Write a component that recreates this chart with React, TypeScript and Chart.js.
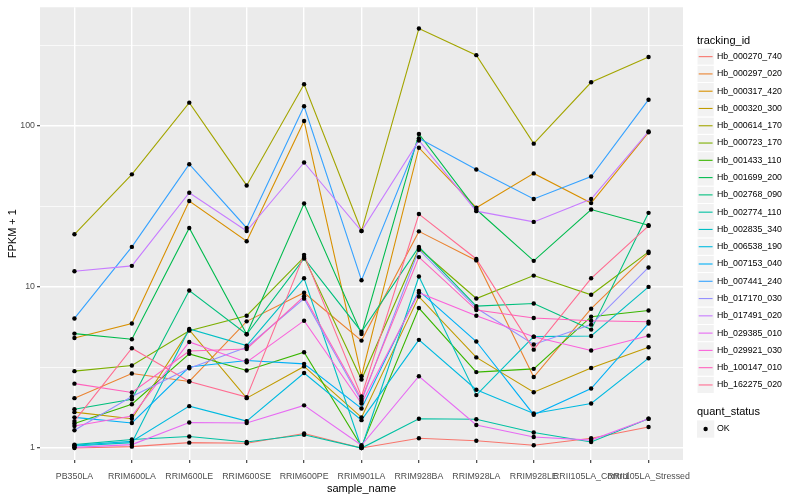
import React, { useEffect, useRef } from "react";
import { Chart, registerables } from "chart.js";

Chart.register(...registerables);

const FONT = '"Liberation Sans", Arial, Helvetica, sans-serif';

const categories = [
  "PB350LA",
  "RRIM600LA",
  "RRIM600LE",
  "RRIM600SE",
  "RRIM600PE",
  "RRIM901LA",
  "RRIM928BA",
  "RRIM928LA",
  "RRIM928LE",
  "RRII105LA_Control",
  "RRII105LA_Stressed",
];

const trackingIds = [
  "Hb_000270_740",
  "Hb_000297_020",
  "Hb_000317_420",
  "Hb_000320_300",
  "Hb_000614_170",
  "Hb_000723_170",
  "Hb_001433_110",
  "Hb_001699_200",
  "Hb_002768_090",
  "Hb_002774_110",
  "Hb_002835_340",
  "Hb_006538_190",
  "Hb_007153_040",
  "Hb_007441_240",
  "Hb_017170_030",
  "Hb_017491_020",
  "Hb_029385_010",
  "Hb_029921_030",
  "Hb_100147_010",
  "Hb_162275_020",
];

const seriesColors = [
  "#F8766D", "#EA8331", "#D89000", "#C09B00", "#A3A500",
  "#7CAE00", "#39B600", "#00BB4E", "#00BF7D", "#00C1A3",
  "#00BFC4", "#00BAE0", "#00B0F6", "#35A2FF", "#9590FF",
  "#C77CFF", "#E76BF3", "#FA62DB", "#FF62BC", "#FF6C91",
];

// FPKM + 1 values, one array per tracking_id, in category order
const hb000270740 = [1.0, 1.02, 1.08, 1.07, 1.23, 1.0, 1.15, 1.11, 1.04, 1.15, 1.35];
const hb000297020 = [2.04, 2.9, 2.59, 6.11, 9.2, 4.64, 22.1, 14.6, 2.76, 7.32, 16.2];
const hb000317420 = [4.82, 5.93, 34.1, 19.2, 107, 2.79, 73, 31, 50.6, 33.1, 91];
const hb000320300 = [1.67, 1.52, 5.41, 2.04, 3.21, 1.55, 8.7, 3.65, 2.22, 3.14, 4.22];
const hb000614170 = [21.2, 49.9, 139, 42.6, 181, 22.2, 401, 274, 77.4, 186, 267];
const hb000723170 = [3.0, 3.25, 5.35, 6.62, 15.3, 2.66, 17.3, 8.47, 11.75, 8.93, 16.5];
const hb001433110 = [1.42, 1.87, 3.84, 3.03, 3.93, 1.02, 7.39, 2.96, 3.1, 6.53, 7.14];
const hb001699200 = [5.13, 4.73, 23.2, 5.08, 32.9, 5.1, 88.9, 30.2, 14.5, 30.2, 24.1];
const hb002768090 = [1.74, 2.01, 9.49, 5.08, 15.0, 5.27, 17.7, 7.6, 7.89, 5.43, 28.8];
const hb002774110 = [1.05, 1.13, 1.18, 1.09, 1.21, 1.0, 1.52, 1.51, 1.25, 1.09, 1.52];
const hb002835340 = [1.03, 1.08, 5.48, 4.32, 11.3, 1.0, 11.6, 2.13, 4.91, 4.96, 10.0];
const hb006538190 = [1.04, 1.1, 1.82, 1.47, 2.92, 1.49, 4.69, 2.3, 1.64, 1.89, 3.61];
const hb007153040 = [1.55, 1.43, 3.18, 3.49, 3.33, 1.76, 9.45, 4.58, 1.61, 2.34, 5.93];
const hb007441240 = [6.37, 17.7, 57.7, 23.2, 132, 11.0, 83.5, 53.5, 35.1, 48.4, 145];
const hb017170030 = [1.29, 2.09, 3.13, 4.22, 8.45, 1.96, 17.0, 7.39, 4.39, 5.83, 13.2];
const hb017491020 = [12.5, 13.5, 38.4, 22.2, 59.1, 22.2, 81, 29.5, 25.3, 35.1, 92];
const hb029385010 = [1.01, 1.05, 1.44, 1.43, 1.84, 1.04, 2.79, 1.39, 1.17, 1.12, 1.52];
const hb029921030 = [1.37, 1.58, 4.55, 3.41, 6.17, 1.89, 9.2, 6.62, 4.91, 4.03, 4.98];
const hb100147010 = [2.51, 2.21, 4.0, 4.12, 8.74, 2.02, 15.3, 7.18, 6.41, 6.17, 6.08];
const hb162275020 = [1.47, 4.16, 2.59, 2.07, 15.8, 2.09, 28.3, 14.9, 4.08, 11.3, 23.9];

const seriesValues = [
  hb000270740, hb000297020, hb000317420, hb000320300, hb000614170,
  hb000723170, hb001433110, hb001699200, hb002768090, hb002774110,
  hb002835340, hb006538190, hb007153040, hb007441240, hb017170030,
  hb017491020, hb029385010, hb029921030, hb100147010, hb162275020,
];

const yMajorTicks = [1, 10, 100];
const yMinorTicks = [3.1623, 31.623, 316.23];
const yTickLabels = ["1", "10", "100"];
const quantStatus = ["OK"];

export default function App() {
  const ref = useRef<HTMLCanvasElement>(null);

  useEffect(() => {
    const canvas = ref.current;
    if (!canvas) return;

    const panelBg = {
      id: "panelBg",
      beforeDraw(chart: any) {
        const { ctx, chartArea } = chart;
        ctx.save();
        ctx.fillStyle = "#FFFFFF";
        ctx.fillRect(0, 0, chart.width, chart.height);
        ctx.fillStyle = "#EBEBEB";
        ctx.fillRect(
          chartArea.left,
          chartArea.top,
          chartArea.right - chartArea.left,
          chartArea.bottom - chartArea.top
        );
        ctx.restore();
      },
    };

    const ggLegend = {
      id: "ggLegend",
      afterDraw(chart: any) {
        const ctx = chart.ctx;
        const x0 = 697;
        const key = 17.28;
        ctx.save();
        ctx.textAlign = "left";
        ctx.textBaseline = "middle";
        ctx.fillStyle = "#000000";
        ctx.font = `11px ${FONT}`;
        ctx.fillText("tracking_id", x0, 40.5);
        const top = 48;
        trackingIds.forEach((id, i) => {
          const y = top + i * key;
          ctx.fillStyle = "#F2F2F2";
          ctx.fillRect(x0, y, key, key);
          ctx.strokeStyle = "#FFFFFF";
          ctx.lineWidth = 1;
          ctx.strokeRect(x0, y, key, key);
          ctx.strokeStyle = seriesColors[i];
          ctx.lineWidth = 1.1;
          ctx.beginPath();
          ctx.moveTo(x0 + 1.7, y + key / 2);
          ctx.lineTo(x0 + key - 1.7, y + key / 2);
          ctx.stroke();
          ctx.fillStyle = "#000000";
          ctx.font = `8.8px ${FONT}`;
          ctx.fillText(id, x0 + key + 2.6, y + key / 2);
        });
        ctx.font = `11px ${FONT}`;
        ctx.fillStyle = "#000000";
        ctx.fillText("quant_status", x0, 412.3);
        const qy = 420.4;
        quantStatus.forEach((q, i) => {
          const y = qy + i * key;
          ctx.fillStyle = "#F2F2F2";
          ctx.fillRect(x0, y, key, key);
          ctx.fillStyle = "#000000";
          ctx.beginPath();
          ctx.arc(x0 + key / 2, y + key / 2, 2.2, 0, Math.PI * 2);
          ctx.fill();
          ctx.font = `8.8px ${FONT}`;
          ctx.fillText(q, x0 + key + 2.6, y + key / 2);
        });
        ctx.restore();
      },
    };

    const lineSets = seriesValues.map((vals, i) => ({
      type: "line" as const,
      label: trackingIds[i],
      data: vals.map((v, j) => ({ x: j + 1, y: v })),
      borderColor: seriesColors[i],
      backgroundColor: seriesColors[i],
      borderWidth: 1.1,
      pointRadius: 0,
      pointHoverRadius: 0,
      fill: false,
      tension: 0,
      order: 100 - i,
    }));

    const pointSet = {
      type: "scatter" as const,
      label: quantStatus[0],
      data: seriesValues.flatMap((vals) => vals.map((v, j) => ({ x: j + 1, y: v }))),
      backgroundColor: "#000000",
      borderColor: "#000000",
      borderWidth: 0,
      pointRadius: 2.2,
      pointHoverRadius: 2.2,
      showLine: false,
      order: 0,
    };

    const isMajor = (v: number) => yMajorTicks.includes(v);

    const chart = new Chart(canvas, {
      type: "line",
      data: { datasets: [...lineSets, pointSet] as any },
      plugins: [panelBg, ggLegend],
      options: {
        responsive: false,
        animation: false,
        events: [],
        layout: { padding: { left: 0, right: 117, top: 5, bottom: 0 } },
        plugins: {
          legend: { display: false },
          tooltip: { enabled: false },
        },
        scales: {
          x: {
            type: "linear",
            min: 0.4,
            max: 11.6,
            afterBuildTicks: (s: any) => {
              s.ticks = categories.map((_, i) => ({ value: i + 1 }));
            },
            afterFit: (s: any) => {
              s.height = 40;
            },
            ticks: {
              autoSkip: false,
              maxRotation: 0,
              minRotation: 0,
              padding: 8,
              color: "#4D4D4D",
              font: { family: FONT, size: 8.8 },
              callback: (v: any) => categories[Math.round(Number(v)) - 1] ?? "",
            },
            grid: {
              color: "#FFFFFF",
              lineWidth: 1.4,
              tickColor: "#333333",
              tickLength: 3,
              tickWidth: 1.1,
            },
            border: { display: false },
            title: {
              display: true,
              text: "sample_name",
              color: "#000000",
              font: { family: FONT, size: 11 },
              padding: { top: 0, bottom: 4.4 },
            },
          },
          y: {
            type: "logarithmic",
            min: 0.843,
            max: 543,
            afterBuildTicks: (s: any) => {
              s.ticks = [...yMajorTicks, ...yMinorTicks]
                .sort((a, b) => a - b)
                .map((v) => ({ value: v }));
            },
            afterFit: (s: any) => {
              s.width = 40;
            },
            ticks: {
              autoSkip: false,
              padding: 2,
              color: "#4D4D4D",
              font: { family: FONT, size: 8.8 },
              callback: (v: any) => {
                const idx = yMajorTicks.indexOf(Number(v));
                return idx >= 0 ? yTickLabels[idx] : "";
              },
            },
            grid: {
              color: "#FFFFFF",
              lineWidth: (c: any) => (isMajor(c.tick?.value) ? 1.4 : 0.7),
              tickColor: (c: any) => (isMajor(c.tick?.value) ? "#333333" : "rgba(0,0,0,0)"),
              tickLength: 3,
              tickWidth: 1.1,
            },
            border: { display: false },
            title: {
              display: true,
              text: "FPKM + 1",
              color: "#000000",
              font: { family: FONT, size: 11 },
              padding: { top: 6, bottom: 0 },
            },
          },
        },
      } as any,
    });

    return () => chart.destroy();
  }, []);

  return (
    <div style={{ position: "absolute", left: 0, top: 0, width: 800, height: 500, background: "#FFFFFF" }}>
      <canvas ref={ref} width={800} height={500} style={{ display: "block", width: 800, height: 500 }} />
    </div>
  );
}
